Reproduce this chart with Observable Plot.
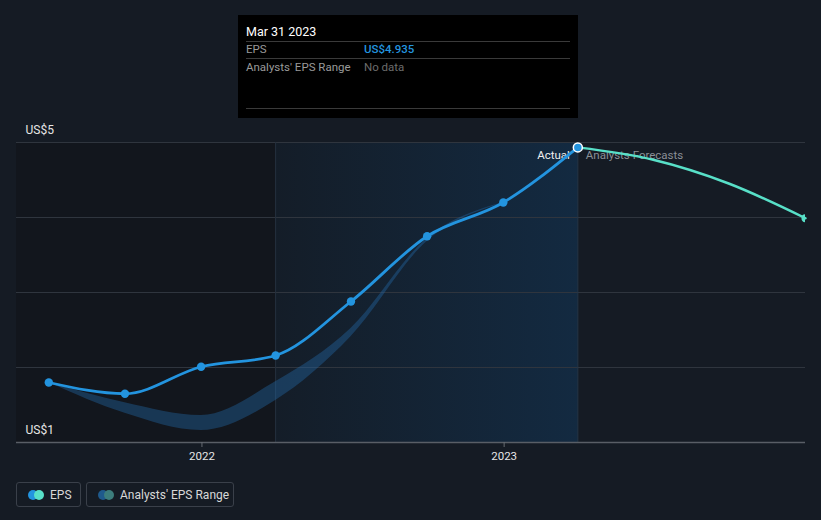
<!DOCTYPE html>
<html>
<head>
<meta charset="utf-8">
<script src="https://cdn.jsdelivr.net/npm/d3@7"></script>
<script src="https://cdn.jsdelivr.net/npm/@observablehq/plot@0.6"></script>
<style>
  html, body { margin: 0; padding: 0; background: #151b24; }
  body { width: 821px; height: 520px; position: relative; overflow: hidden; font-family: Roboto, "Open Sans", sans-serif; }
  #chart { position: absolute; left: 0; top: 0; }
  #tip { position: absolute; left: 238px; top: 15px; width: 340px; height: 103px; background: #000; }
  #tip .date { position: absolute; left: 8px; top: 9px; font-size: 12.5px; color: #fff; }
  #tip .hr { position: absolute; left: 8px; width: 324px; height: 1px; background: #3a3a3a; }
  #tip .lab { position: absolute; left: 8px; font-size: 11.5px; color: #9a9a9a; }
  #tip .val { position: absolute; left: 126px; font-size: 11.5px; }
  .leg { position: absolute; top: 482px; height: 25px; border: 1px solid #3a404a; border-radius: 3px; box-sizing: border-box; font-size: 12px; color: #d8d8d8; }
  .leg .c { position: absolute; top: 7px; width: 10px; height: 10px; border-radius: 50%; }
  .leg .t { position: absolute; top: 5px; }
</style>
</head>
<body>
<div id="chart"></div>
<div id="tip">
  <div class="date">Mar 31 2023</div>
  <div class="hr" style="top:26px"></div>
  <div class="lab" style="top:27px">EPS</div>
  <div class="val" style="top:27px;color:#2394df;font-weight:500">US$4.935</div>
  <div class="hr" style="top:43px"></div>
  <div class="lab" style="top:45px">Analysts' EPS Range</div>
  <div class="val" style="top:45px;color:#6c6c6c">No data</div>
  <div class="hr" style="top:93px"></div>
</div>
<div class="leg" style="left:16px;width:65px">
  <div class="c" style="left:11px;background:#2394df"></div>
  <div class="c" style="left:17px;background:#58e0c8"></div>
  <div class="t" style="left:33px">EPS</div>
</div>
<div class="leg" style="left:86px;width:148px">
  <div class="c" style="left:11px;background:#1f5a8c"></div>
  <div class="c" style="left:17px;background:#3c7d7c"></div>
  <div class="t" style="left:33px">Analysts' EPS Range</div>
</div>
<script>
// ---- data ----
const xDomain = ["2021-05-22", "2023-12-31"];
const yDomain = [1, 5];
const yTickValues = [1, 2, 3, 4, 5];
const yTickLabels = ["US$1", "", "", "", "US$5"];
const xTickYears = ["2022-01-01", "2023-01-01"];

const epsDates  = ["2021-06-30","2021-09-30","2021-12-31","2022-03-31","2022-06-30","2022-09-30","2022-12-31","2023-03-31"];
const epsValues = [1.80, 1.65, 2.01, 2.16, 2.88, 3.75, 4.20, 4.935];

const rangeDates = ["2021-06-30","2021-09-30","2021-12-31","2022-03-31","2022-06-30","2022-09-30","2022-12-31"];
const rangeLow   = [1.80, 1.39, 1.16, 1.56, 2.41, 3.68, 4.19];
const rangeHigh  = [1.80, 1.53, 1.36, 1.81, 2.52, 3.72, 4.20];

const forecastDates  = ["2023-03-31","2023-06-30","2023-09-30","2023-12-31"];
const forecastValues = [4.935, 4.77, 4.45, 3.99];

const pastYearStart = "2022-03-31";
const pastYearEnd = "2023-03-31";

// ---- build ----
const D = s => new Date(s);
const eps = epsDates.map((d, i) => ({date: D(d), value: epsValues[i]}));
const range = rangeDates.map((d, i) => ({date: D(d), low: rangeLow[i], high: rangeHigh[i]}));
const forecast = forecastDates.map((d, i) => ({date: D(d), value: forecastValues[i]}));
const yTicks = yTickValues.map((v, i) => ({value: v, label: yTickLabels[i]}));
const last = eps[eps.length - 1];

const chart = Plot.plot({
  width: 821,
  height: 470,
  marginLeft: 16,
  marginRight: 16,
  marginTop: 142,
  marginBottom: 28,
  style: {background: "transparent", color: "#e0e0e0", fontFamily: "Roboto, sans-serif", fontSize: "11px"},
  x: {type: "utc", domain: xDomain.map(D), label: null},
  y: {domain: yDomain, axis: null},
  marks: [
    Plot.rect([{x1: D(xDomain[0]), x2: D(pastYearStart)}], {x1: "x1", x2: "x2", fill: "#12161d"}),
    Plot.rect([{x1: D(pastYearStart), x2: D(pastYearEnd)}], {x1: "x1", x2: "x2", fill: "url(#hl)"}),
    Plot.ruleY(yTicks.filter(d => d.value !== yDomain[0]), {y: "value", stroke: "#2f353e", strokeWidth: 1}),
    Plot.ruleX([D(pastYearStart)], {stroke: "#25313e", strokeWidth: 1}),
    Plot.ruleX([D(pastYearEnd)], {stroke: "#24374b", strokeWidth: 1}),
    Plot.ruleY([yDomain[0]], {stroke: "#595e66", strokeWidth: 1.5}),
    Plot.axisX({ticks: xTickYears.map(D), tickFormat: "%Y", tickSize: 5, tickPadding: 4, stroke: "#666b72", fill: "#e6e6e6", fontSize: 11.5}),
    Plot.text(yTicks.filter(d => d.label), {x: D(xDomain[0]), y: "value", text: "label", textAnchor: "start", dx: 9, dy: -12, fill: "#e6e6e6", fontSize: 12}),
    Plot.areaY(range, {x: "date", y1: "low", y2: "high", curve: "monotone-x", fill: "#2369a8", fillOpacity: 0.4}),
    Plot.text([last], {x: "date", y: "value", text: () => "Actual", textAnchor: "end", dx: -8, dy: 8, fill: "#f0f0f0", fontSize: 11.5}),
    Plot.text([last], {x: "date", y: "value", text: () => "Analysts Forecasts", textAnchor: "start", dx: 8, dy: 8, fill: "#8a8f96", fontSize: 11.5}),
    Plot.line(forecast, {x: "date", y: "value", curve: "monotone-x", stroke: "#58e0c8", strokeWidth: 2.5}),
    Plot.dot([forecast[forecast.length - 1]], {x: "date", y: "value", r: 4, fill: "#58e0c8", clip: "frame"}),
    Plot.line(eps, {x: "date", y: "value", curve: "monotone-x", stroke: "#2394df", strokeWidth: 2.8}),
    Plot.dot(eps.slice(0, -1), {x: "date", y: "value", r: 4.2, fill: "#2394df"}),
    Plot.dot([last], {x: "date", y: "value", r: 4.5, fill: "#2394df", stroke: "#ffffff", strokeWidth: 1.5})
  ]
});

const defs = document.createElementNS("http://www.w3.org/2000/svg", "defs");
defs.innerHTML = '<linearGradient id="hl" x1="0" x2="1" y1="0" y2="0"><stop offset="0" stop-color="#141d28"/><stop offset="1" stop-color="#132a41"/></linearGradient>';
chart.insertBefore(defs, chart.firstChild);
document.getElementById("chart").appendChild(chart);
</script>
</body>
</html>
